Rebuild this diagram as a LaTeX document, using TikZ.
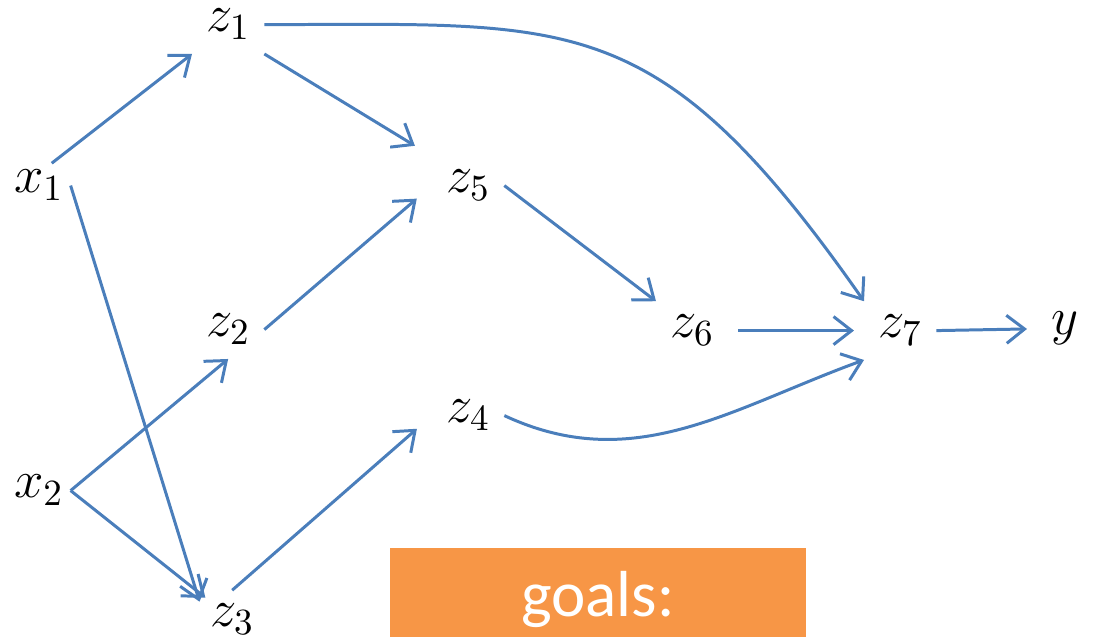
\RequirePackage{fix-cm}
\documentclass[tikz,border=0pt]{standalone}
\usepackage{fontspec}
\newfontfamily\goalsfont{Carlito}
\usetikzlibrary{arrows.meta}
\definecolor{edgeblue}{HTML}{4A7EBB}
\definecolor{goalorange}{HTML}{F79646}

\begin{document}
\begin{tikzpicture}[x=0.01cm, y=0.01cm,
  var/.style={inner sep=2pt, outer sep=2pt, anchor=base west, font=\fontsize{15}{18}\selectfont},
  arrow/.style={-{Straight Barb[length=1.8mm, width=2.8mm]}, line width=0.85pt, edgeblue},
  goal/.style={text=white, anchor=base, font=\goalsfont\fontsize{18.5}{22}\selectfont},
]
\useasboundingbox (0,0) rectangle (1093,-637);

% ====== Inputs and hidden variables ======
\node[var, outer sep=0pt] (x1) at (7,-193) {$x_1$};
\node[var, outer sep=0pt] (x2) at (7,-498) {$x_2$};
\node[var] (z1) at (192,-32) {$z_1$};
\node[var] (z2) at (192,-337) {$z_2$};
\node[var] (z3) at (196,-627) {$z_3$};
\node[var] (z5) at (432,-193) {$z_5$};
\node[var] (z4) at (432,-423) {$z_4$};
\node[var] (z6) at (656,-338) {$z_6$};
\node[var] (z7) at (864,-338) {$z_7$};
\node[var] (y) at (1037,-335) {$y$};

% ====== Connections ======
\draw[arrow] (x1.60) -- (z1.south west);
\draw[arrow, shorten >=-1.2mm] (x1.east) -- (z3.north west);
\draw[arrow] (x2.east) -- (z2.south);
\draw[arrow, shorten >=-1.2mm] (x2.east) -- (z3.north west);
\draw[arrow, shorten >=2mm] (z1.south east) -- (z5.north west);
\draw[arrow] (z1.east) to[out=0, in=125, out looseness=1.2, in looseness=1.4] (z7.north west);
\draw[arrow, shorten >=2mm] (z2.east) -- (z5.west);
\draw[arrow, shorten >=2mm] (z3.north) -- (z4.west);
\draw[arrow] (z4.east) to[out=-25, in=-160] (z7.south west);
\draw[arrow] (z5.east) -- (z6.north west);
\draw[arrow, shorten <=1mm, shorten >=1mm] (z6.east) -- (z7.west);
\draw[arrow, shorten >=1mm] (z7.east) -- (y.west);

% ====== Goals box ======
\fill[goalorange] (390,-548) rectangle (806,-637);
\node[goal] (goals) at (598,-617) {goals:};

\end{tikzpicture}
\end{document}
